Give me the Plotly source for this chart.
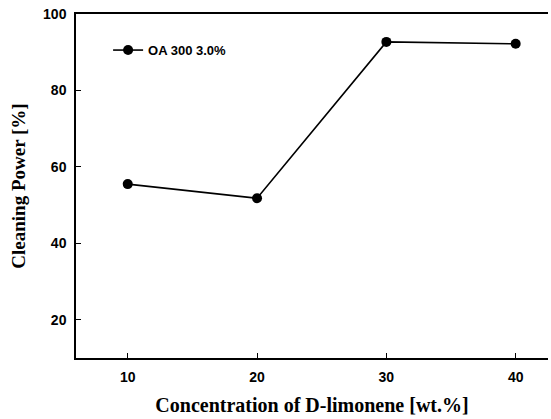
import plotly.graph_objects as go

# D-limonene concentration (wt.%) vs cleaning power (%)
concentration = [10, 20, 30, 40]
cleaning_power = [55.5, 51.8, 92.7, 92.2]
series_name = "OA 300 3.0%"

x_ticks = [10, 20, 30, 40]
y_ticks = [20, 40, 60, 80, 100]

fig = go.Figure()
fig.add_trace(go.Scatter(
    x=concentration,
    y=cleaning_power,
    mode="lines+markers",
    name=series_name,
    line=dict(color="black", width=1.6),
    marker=dict(color="black", size=10, symbol="circle"),
))

tick_font = dict(family="Liberation Sans, Arial", size=14, color="black", weight="bold")
serif = "Liberation Serif, Times New Roman"

fig.update_layout(
    width=551,
    height=419,
    margin=dict(l=76, r=3, t=14, b=61),
    paper_bgcolor="white",
    plot_bgcolor="white",
    showlegend=True,
    legend=dict(
        x=0.068, y=0.895, xanchor="left", yanchor="middle",
        bgcolor="rgba(0,0,0,0)",
        font=dict(family="Liberation Sans, Arial", size=13, color="black", weight="bold"),
        itemwidth=30,
    ),
    xaxis=dict(
        range=[6, 42.5],
        tickvals=x_ticks,
        ticks="inside", ticklen=5, tickwidth=1, tickcolor="black",
        ticklabelstandoff=5,
        showline=True, linecolor="black", linewidth=1.5, mirror=True,
        showgrid=False, zeroline=False,
        tickfont=tick_font,
        title=dict(text="<b>Concentration of D-limonene [wt.%]</b>",
                   font=dict(family=serif, size=20, color="black"), standoff=14),
    ),
    yaxis=dict(
        range=[10, 100],
        tickvals=y_ticks,
        ticks="inside", ticklen=5, tickwidth=1, tickcolor="black",
        ticklabelstandoff=5,
        showline=True, linecolor="black", linewidth=1.5,
        showgrid=False, zeroline=False,
        tickfont=tick_font,
        title=dict(text="<b>Cleaning Power [%]</b>",
                   font=dict(family=serif, size=19, color="black"), standoff=12),
    ),
)

fig.write_html("out.html")
